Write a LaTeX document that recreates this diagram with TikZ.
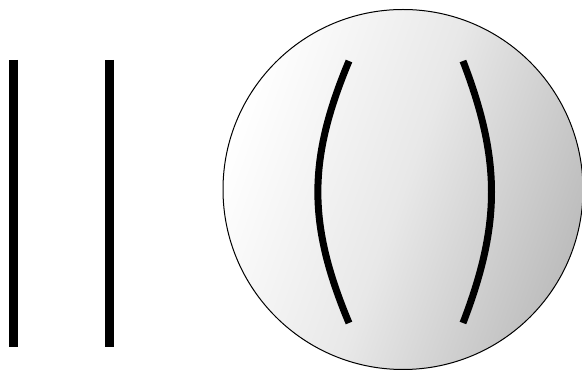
\documentclass[tikz,border=0pt]{standalone}
\begin{document}
\begin{tikzpicture}[x=1pt,y=-1pt,
  plate/.style={line width=8.5pt,line cap=butt},
  lensline/.style={line width=7pt,line cap=butt},
  ball/.style={draw=black,line width=1pt}]
\useasboundingbox (0,0) rectangle (582,371);
% two straight plates
\coordinate (p1t) at (13.5,60);
\coordinate (p1b) at (13.5,347);
\coordinate (p2t) at (109.7,60);
\coordinate (p2b) at (109.7,347);
\draw[plate] (p1t) -- (p1b);
\draw[plate] (p2t) -- (p2b);
% shaded sphere
\begin{scope}
\clip (0,0) rectangle (582,371);
\shade[shading=axis,left color=white,right color=black!26,middle color=black!9,shading angle=70]
  (403,189.5) circle (180);
\draw[ball] (403,189.5) circle (180);
\end{scope}
% curved lines
\coordinate (l1t) at (349,61);
\coordinate (l1b) at (349,323);
\coordinate (l2t) at (463,61);
\coordinate (l2b) at (463,323);
\draw[lensline] (l1t) .. controls (307.5,160) and (307.5,224) .. (l1b);
\draw[lensline] (l2t) .. controls (501,160) and (501,224) .. (l2b);
\end{tikzpicture}
\end{document}
